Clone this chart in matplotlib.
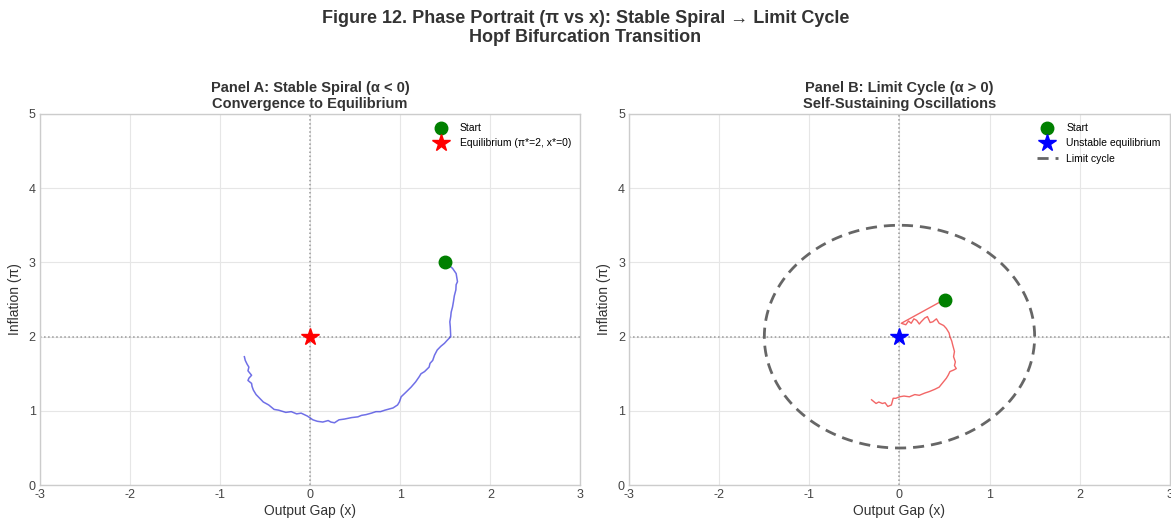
import numpy as np
import matplotlib
matplotlib.use("Agg")
import matplotlib.pyplot as plt

# panel A: stable spiral trajectory
spiral_x = [1.50, 1.55, 1.58, 1.62, 1.635, 1.62, 1.617, 1.60, 1.59, 1.58, 1.565, 1.56,
            1.55, 1.555, 1.56, 1.52, 1.49, 1.45, 1.41, 1.38, 1.36, 1.33, 1.32, 1.27,
            1.23, 1.21, 1.17, 1.12, 1.07, 1.01, 0.99, 0.97, 0.92, 0.83, 0.78, 0.73,
            0.68, 0.62, 0.57, 0.53, 0.46, 0.38, 0.32, 0.27, 0.23, 0.20, 0.17, 0.14,
            0.08, 0.03, -0.03, -0.10, -0.15, -0.21, -0.27, -0.35, -0.40, -0.46,
            -0.52, -0.56, -0.60, -0.63, -0.645, -0.65, -0.69, -0.68, -0.65, -0.67,
            -0.69, -0.68, -0.70, -0.72, -0.73]
spiral_y = [3.00, 2.95, 2.92, 2.85, 2.74, 2.70, 2.63, 2.55, 2.47, 2.40, 2.33, 2.27,
            2.20, 2.13, 2.00, 1.95, 1.91, 1.87, 1.82, 1.75, 1.68, 1.64, 1.59, 1.53,
            1.50, 1.46, 1.39, 1.32, 1.26, 1.19, 1.12, 1.08, 1.04, 1.01, 0.99, 0.99,
            0.97, 0.95, 0.94, 0.92, 0.91, 0.89, 0.88, 0.84, 0.85, 0.87, 0.86, 0.85,
            0.86, 0.88, 0.93, 0.97, 0.96, 0.99, 0.98, 1.01, 1.02, 1.08, 1.12, 1.17,
            1.22, 1.28, 1.33, 1.37, 1.41, 1.44, 1.48, 1.51, 1.54, 1.59, 1.63, 1.68, 1.73]

# panel B: trajectory around unstable equilibrium
cycle_x = [0.50, 0.02, 0.07, 0.10, 0.13, 0.16, 0.19, 0.22, 0.24, 0.28, 0.31, 0.34,
           0.37, 0.41, 0.44, 0.49, 0.52, 0.55, 0.56, 0.58, 0.59, 0.61, 0.60, 0.62,
           0.61, 0.63, 0.60, 0.56, 0.54, 0.52, 0.48, 0.44, 0.39, 0.33, 0.28, 0.22,
           0.17, 0.11, 0.05, 0.00, -0.04, -0.07, -0.09, -0.13, -0.16, -0.19, -0.23,
           -0.26, -0.29, -0.31]
cycle_y = [2.50, 2.18, 2.16, 2.21, 2.18, 2.24, 2.22, 2.17, 2.20, 2.25, 2.27, 2.19,
           2.20, 2.24, 2.18, 2.15, 2.11, 2.05, 2.00, 1.94, 1.89, 1.80, 1.73, 1.66,
           1.61, 1.57, 1.55, 1.53, 1.48, 1.44, 1.38, 1.32, 1.29, 1.26, 1.24, 1.21,
           1.22, 1.19, 1.20, 1.19, 1.17, 1.17, 1.08, 1.06, 1.11, 1.10, 1.12, 1.10,
           1.13, 1.15]

eq_a = (0, 2)
start_a = (1.5, 3.0)
eq_b = (0, 2)
start_b = (0.5, 2.5)
cycle_radius = 1.5

plt.rcParams['font.family'] = ['Liberation Sans', 'DejaVu Sans']
plt.rcParams['axes.unicode_minus'] = False

fig, axes = plt.subplots(1, 2, figsize=(11.71, 5.2), dpi=100)
fig.subplots_adjust(left=0.034, right=0.999, top=0.781, bottom=0.067, wspace=0.09)

fig.suptitle("Figure 12. Phase Portrait (\u03c0 vs x): Stable Spiral \u2192 Limit Cycle\nHopf Bifurcation Transition",
             fontsize=13, fontweight='bold', color='#333333', y=0.98, linespacing=1.15)


def style_axis(ax):
    ax.set_xlim(-3, 3)
    ax.set_ylim(0, 5)
    ax.set_facecolor('white')
    ax.grid(True, color='#e6e6e6', linewidth=0.8)
    ax.set_axisbelow(True)
    for s in ax.spines.values():
        s.set_color('#cccccc')
        s.set_linewidth(1.0)
    ax.tick_params(length=0, labelsize=9, colors='#444444', pad=3)
    ax.axhline(2, color='#999999', linestyle=':', linewidth=1.1)
    ax.axvline(0, color='#999999', linestyle=':', linewidth=1.1)
    ax.set_xlabel("Output Gap (x)", fontsize=10, color='#333333', labelpad=2)
    ax.set_ylabel("Inflation (\u03c0)", fontsize=10, color='#333333', labelpad=5)


ax = axes[0]
style_axis(ax)
ax.plot(spiral_x, spiral_y, color='#3333dd', alpha=0.7, linewidth=1.1)
ax.plot(*start_a, 'o', color='green', markersize=9, label='Start', zorder=5)
ax.plot(*eq_a, '*', color='red', markersize=13, label='Equilibrium (\u03c0*=2, x*=0)', zorder=5)
ax.set_title("Panel A: Stable Spiral (\u03b1 < 0)\nConvergence to Equilibrium",
             fontsize=10.5, fontweight='bold', color='#333333', pad=4)
ax.legend(loc='upper right', fontsize=7.5, frameon=False, handletextpad=0.8)

ax = axes[1]
style_axis(ax)
ax.plot(cycle_x, cycle_y, color='#ee3333', alpha=0.75, linewidth=1.0)
ax.plot(*start_b, 'o', color='green', markersize=9, label='Start', zorder=5)
ax.plot(*eq_b, '*', color='blue', markersize=13, label='Unstable equilibrium', zorder=5)
t = np.linspace(0, 2 * np.pi, 300)
ax.plot(eq_b[0] + cycle_radius * np.cos(t), eq_b[1] + cycle_radius * np.sin(t),
        linestyle='--', color='#666666', linewidth=2, dashes=(4, 2.5), label='Limit cycle')
ax.set_title("Panel B: Limit Cycle (\u03b1 > 0)\nSelf-Sustaining Oscillations",
             fontsize=10.5, fontweight='bold', color='#333333', pad=4)
ax.legend(loc='upper right', fontsize=7.5, frameon=False, handletextpad=0.8)

fig.savefig("out.png", dpi=100, facecolor='white')
